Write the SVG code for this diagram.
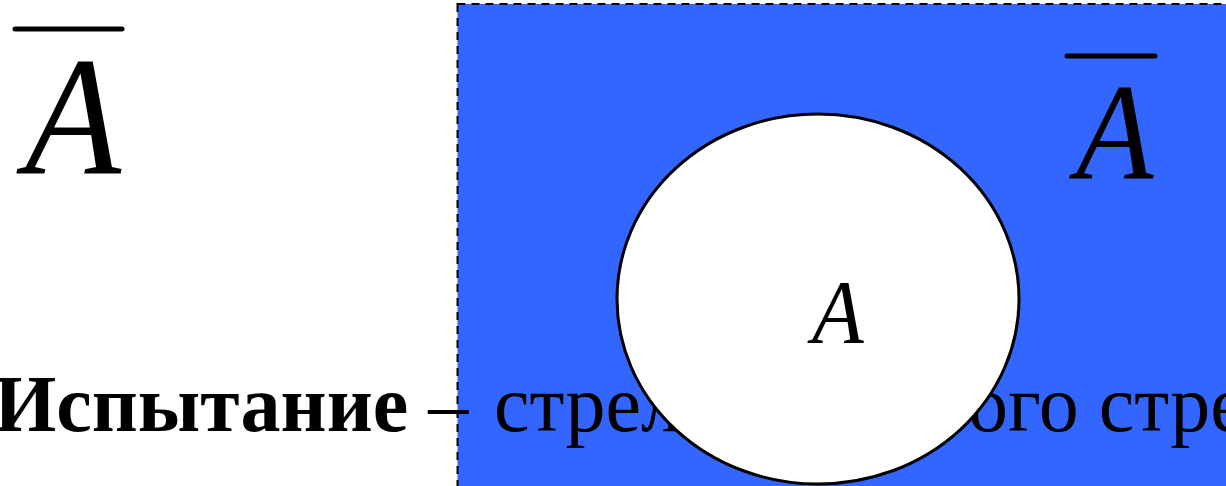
<svg xmlns="http://www.w3.org/2000/svg" width="1226" height="486" viewBox="0 0 1226 486">
  <style>
    .math { font-family: "Liberation Serif", "Times New Roman", serif; font-style: italic; fill: #000; }
    .bar { stroke: #000; stroke-width: 5; stroke-linecap: round; }
    .body { font-family: "Liberation Serif", "Times New Roman", serif; font-size: 80px; fill: #000; }
  </style>
  <rect width="1226" height="486" fill="#fff"/>

  <!-- sample space -->
  <g id="space">
    <rect x="457.5" y="4" width="800" height="520" fill="#3366ff" stroke="#000" stroke-width="2" stroke-dasharray="8 6"/>
  </g>

  <!-- sentence running across the slide -->
  <text class="body" x="-6" y="431"><tspan font-weight="bold">Испытание</tspan> – <tspan x="494">стрельба одн</tspan><tspan x="968">ого стрелка</tspan></text>

  <!-- event A -->
  <g id="event-a">
    <ellipse cx="818" cy="299" rx="201" ry="185" fill="#fff" stroke="#000" stroke-width="3"/>
    <text class="math" font-size="92" transform="translate(812 343) scale(0.92 1)">A</text>
  </g>

  <!-- complement label inside the space -->
  <g id="complement-inside">
    <line class="bar" x1="1067" y1="56" x2="1155" y2="56"/>
    <text class="math" font-size="138" transform="translate(1076 178) scale(0.92 1)">A</text>
  </g>

  <!-- complement label on the left -->
  <g id="complement-left">
    <line class="bar" x1="15" y1="29" x2="122" y2="29"/>
    <text class="math" font-size="169" transform="translate(25 174) scale(0.93 1)">A</text>
  </g>
</svg>
